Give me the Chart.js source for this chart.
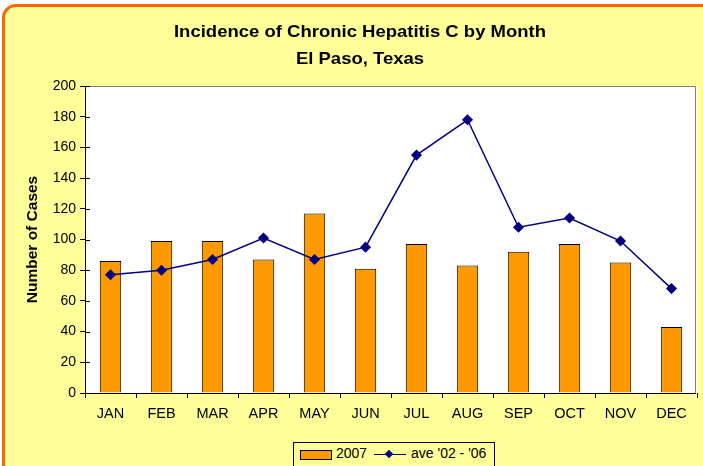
<!DOCTYPE html>
<html>
<head>
<meta charset="utf-8">
<script src="https://cdn.jsdelivr.net/npm/chart.js@4.4.1/dist/chart.umd.min.js"></script>
<style>
  html, body { margin: 0; padding: 0; background: #fff; overflow: hidden; }
  #frame {
    position: absolute; left: 2px; top: 4px; width: 730px; height: 490px;
    background: #FFFF99; border: 3px solid #FF6600; border-radius: 14px;
  }
  #wrap { position: absolute; left: 0; top: 0; width: 703px; height: 466px; }
  #legend {
    position: absolute; left: 293px; top: 442px; width: 200px; height: 30px;
    border: 1px solid #000; background: #FFFF99;
    font-family: "Liberation Sans", Arial, sans-serif; font-size: 14px; color: #000;
  }
  #legend .sw { position: absolute; left: 6px; top: 7px; width: 30px; height: 8px; background: #FF9900; border: 1px solid #000; }
  #legend .t1 { position: absolute; left: 42px; top: 2px; }
  #legend .ln { position: absolute; left: 80px; top: 11px; width: 32px; height: 1px; background: #000080; }
  #legend .dm { position: absolute; left: 92px; top: 8px; width: 6px; height: 6px; background: #000080; transform: rotate(45deg); }
  #legend .t2 { position: absolute; left: 117px; top: 2px; }
</style>
</head>
<body>
<div id="frame"></div>
<div id="wrap"><canvas id="chart" width="703" height="466"></canvas></div>
<div id="legend">
  <span class="sw"></span><span class="t1">2007</span>
  <span class="ln"></span><span class="dm"></span><span class="t2">ave '02 - '06</span>
</div>
<script>
const months = ['JAN', 'FEB', 'MAR', 'APR', 'MAY', 'JUN', 'JUL', 'AUG', 'SEP', 'OCT', 'NOV', 'DEC'];
const cases2007 = [86, 99, 99, 87, 117, 81, 97, 83, 92, 97, 85, 43];
const ave0206 = [77, 80, 87, 101, 87, 95, 155, 178, 108, 114, 99, 68];
const titleLines = ['Incidence of Chronic Hepatitis C by Month', 'El Paso, Texas'];

const FONT = '"Liberation Sans", Arial, sans-serif';

// white plot area + frame, manual title, inner tick marks
const plotDecor = {
  id: 'plotDecor',
  beforeDraw(chart) {
    const { ctx, chartArea: a } = chart;
    ctx.save();
    ctx.fillStyle = '#fff';
    ctx.fillRect(a.left, a.top, a.right - a.left, a.bottom - a.top);
    ctx.restore();
  },
  afterDraw(chart) {
    const { ctx, chartArea: a, scales } = chart;
    ctx.save();
    ctx.strokeStyle = '#808080';
    ctx.lineWidth = 1;
    ctx.beginPath();
    ctx.moveTo(a.left, a.top + 0.5);
    ctx.lineTo(a.right - 1.5, a.top + 0.5);
    ctx.lineTo(a.right - 1.5, a.bottom);
    ctx.stroke();
    // y ticks crossing into plot
    ctx.strokeStyle = '#000';
    ctx.beginPath();
    scales.y.ticks.forEach(t => {
      const y = Math.round(scales.y.getPixelForValue(t.value)) + 0.5;
      ctx.moveTo(a.left, y);
      ctx.lineTo(a.left + 5, y);
    });
    ctx.stroke();
    // axis lines
    ctx.beginPath();
    ctx.moveTo(a.left + 0.5, a.top);
    ctx.lineTo(a.left + 0.5, a.bottom);
    ctx.moveTo(a.left - 5, a.bottom + 0.5);
    ctx.lineTo(a.right - 1, a.bottom + 0.5);
    ctx.stroke();

    // title, squashed a little vertically like the original
    ctx.fillStyle = '#000';
    ctx.font = 'bold 18.5px ' + FONT;
    ctx.textAlign = 'center';
    ctx.textBaseline = 'middle';
    ctx.scale(1, 0.87);
    ctx.fillText(titleLines[0], 360, 33 / 0.87);
    ctx.fillText(titleLines[1], 360, 60 / 0.87);
    ctx.restore();
  }
};

new Chart(document.getElementById('chart'), {
  data: {
    labels: months,
    datasets: [
      {
        type: 'line',
        label: "ave '02 - '06",
        data: ave0206,
        borderColor: '#000080',
        backgroundColor: '#000080',
        borderWidth: 1.5,
        pointStyle: 'rectRot',
        pointRadius: 4.5,
        pointHoverRadius: 4.5,
        tension: 0,
        order: 1
      },
      {
        type: 'bar',
        label: '2007',
        data: cases2007,
        backgroundColor: '#FF9900',
        borderColor: '#000',
        borderWidth: 1,
        categoryPercentage: 1,
        barPercentage: 0.42,
        order: 2
      }
    ]
  },
  options: {
    responsive: false,
    animation: false,
    layout: { padding: { top: 86, left: 0, right: 0, bottom: 0 } },
    plugins: {
      legend: { display: false },
      title: { display: false },
      tooltip: { enabled: false }
    },
    scales: {
      x: {
        offset: true,
        grid: { display: true, offset: true, drawOnChartArea: false, drawTicks: true, tickLength: 5, color: '#000' },
        border: { display: false },
        ticks: { color: '#000', font: { family: FONT, size: 14.5 }, padding: 7, maxRotation: 0 },
        afterFit(scale) { scale.height = 73; }
      },
      y: {
        min: 0,
        max: 200,
        grid: { drawOnChartArea: false, tickLength: 5, color: '#000' },
        border: { display: false },
        ticks: { stepSize: 20, color: '#000', font: { family: FONT, size: 14 }, padding: 4 },
        title: {
          display: true,
          text: 'Number of Cases',
          color: '#000',
          font: { family: FONT, size: 15.5, weight: 'bold' },
          padding: { top: 23, bottom: 0 }
        },
        afterFit(scale) { scale.width = 85; }
      }
    }
  },
  plugins: [plotDecor]
});
</script>
</body>
</html>
